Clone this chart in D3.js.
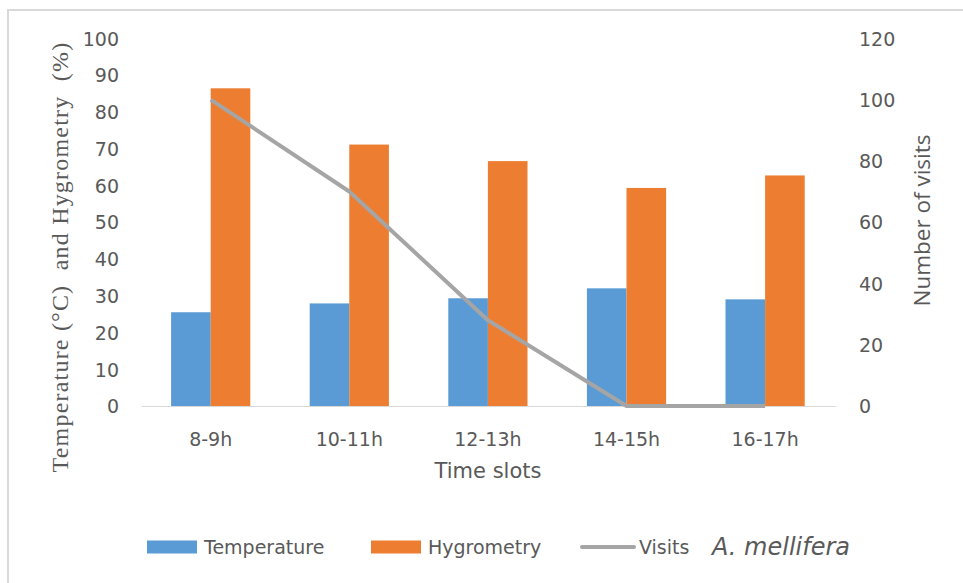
<!DOCTYPE html>
<html>
<head>
<meta charset="utf-8">
<script src="https://cdn.jsdelivr.net/npm/d3@7"></script>
<style>
  html, body { margin: 0; padding: 0; background: #ffffff; }
  svg { display: block; }
</style>
</head>
<body>
<svg id="chart" width="963" height="583"></svg>
<script>
// ---- Data ----
const categories = ["8-9h", "10-11h", "12-13h", "14-15h", "16-17h"];
const temperature = [25.5, 27.9, 29.3, 32.0, 29.0];
const hygrometry = [86.4, 71.1, 66.6, 59.3, 62.7];
const visits = [100, 70, 28, 0, 0];
const leftTicks = [0, 10, 20, 30, 40, 50, 60, 70, 80, 90, 100];
const rightTicks = [0, 20, 40, 60, 80, 100, 120];
const seriesNames = ["Temperature", "Hygrometry"];

// ---- Layout ----
const W = 963, H = 583;
const plot = { left: 141.4, right: 834.4, top: 38.3, bottom: 406 };
const colors = { Temperature: "#5b9bd5", Hygrometry: "#ed7d31", Visits: "#a5a5a5" };
const textColor = "#595959";
const tickFont = "'DejaVu Sans', sans-serif";

const svg = d3.select("#chart");

// outer frame (clipped by the picture edges)
svg.append("path")
  .attr("d", `M8,${H} V10 H${W}`)
  .attr("fill", "none")
  .attr("stroke", "#d9d9d9")
  .attr("stroke-width", 2);

// ---- Scales ----
const x0 = d3.scaleBand().domain(categories).range([plot.left, plot.right]).paddingInner(0).paddingOuter(0);
const x1 = d3.scaleBand().domain(seriesNames).range([0, x0.bandwidth()]).paddingInner(0).paddingOuter(0.75);
const yL = d3.scaleLinear().domain([0, 100]).range([plot.bottom, plot.top]);
const yR = d3.scaleLinear().domain([0, 120]).range([plot.bottom, plot.top]);

// ---- Bars ----
const rows = categories.map((c, i) => ({ cat: c, Temperature: temperature[i], Hygrometry: hygrometry[i] }));
const groups = svg.append("g").selectAll("g").data(rows).join("g")
  .attr("transform", d => `translate(${x0(d.cat)},0)`);
groups.selectAll("rect")
  .data(d => seriesNames.map(s => ({ s, v: d[s] })))
  .join("rect")
  .attr("x", d => x1(d.s))
  .attr("width", x1.bandwidth())
  .attr("y", d => yL(d.v))
  .attr("height", d => yL(0) - yL(d.v))
  .attr("fill", d => colors[d.s]);

// ---- Category axis baseline ----
svg.append("line")
  .attr("x1", plot.left).attr("x2", plot.right + 1.5)
  .attr("y1", plot.bottom + 0.5).attr("y2", plot.bottom + 0.5)
  .attr("stroke", "#d9d9d9").attr("stroke-width", 1);

// ---- Visits line ----
const line = d3.line()
  .x((d, i) => x0(categories[i]) + x0.bandwidth() / 2)
  .y(d => yR(d));
svg.append("path")
  .datum(visits)
  .attr("d", line)
  .attr("fill", "none")
  .attr("stroke", colors.Visits)
  .attr("stroke-width", 4)
  .attr("stroke-linejoin", "round");

// ---- Axes ----
const axL = svg.append("g")
  .attr("transform", `translate(${plot.left},0)`)
  .call(d3.axisLeft(yL).tickValues(leftTicks).tickSize(0).tickPadding(22));
axL.select(".domain").remove();
axL.selectAll("text")
  .attr("font-family", tickFont).attr("font-size", 19).attr("fill", textColor)
  .attr("x", 119 - plot.left).attr("dy", "0.36em");

const axR = svg.append("g")
  .attr("transform", `translate(${plot.right},0)`)
  .call(d3.axisRight(yR).tickValues(rightTicks).tickSize(0));
axR.select(".domain").remove();
axR.selectAll("text")
  .attr("font-family", tickFont).attr("font-size", 19).attr("fill", textColor)
  .attr("x", 859 - plot.right).attr("dy", "0.36em");

const axB = svg.append("g")
  .attr("transform", `translate(0,${plot.bottom})`)
  .call(d3.axisBottom(x0).tickSize(0));
axB.select(".domain").remove();
axB.selectAll("text")
  .attr("font-family", tickFont).attr("font-size", 19).attr("fill", textColor)
  .attr("y", 40).attr("dy", 0);

// ---- Axis titles ----
svg.append("text")
  .attr("transform", "translate(488,478)")
  .attr("text-anchor", "middle")
  .attr("font-family", tickFont).attr("font-size", 21).attr("fill", textColor)
  .text("Time slots");

svg.append("text")
  .attr("transform", "translate(60,257) rotate(-90)")
  .attr("text-anchor", "middle")
  .attr("dominant-baseline", "central")
  .attr("font-family", "'Liberation Serif', 'Times New Roman', serif")
  .attr("font-size", 24).attr("letter-spacing", "1.2px")
  .attr("fill", textColor)
  .style("white-space", "pre")
  .text("Temperature (°C)  and Hygrometry  (%)");

svg.append("text")
  .attr("transform", "translate(921,220.5) rotate(-90)")
  .attr("text-anchor", "middle")
  .attr("dominant-baseline", "central")
  .attr("font-family", "'Open Sans', sans-serif")
  .attr("font-size", 22.5).attr("fill", textColor)
  .text("Number of visits");

// ---- Legend ----
const legY = 547;
const legend = svg.append("g");
const legItems = [
  { name: "Temperature", type: "rect", x: 147 },
  { name: "Hygrometry", type: "rect", x: 371 },
  { name: "Visits", type: "line", x: 582 }
];
legItems.forEach(it => {
  if (it.type === "rect") {
    legend.append("rect").attr("x", it.x).attr("y", legY - 6.5).attr("width", 50).attr("height", 13)
      .attr("fill", colors[it.name]);
  } else {
    legend.append("line").attr("x1", it.x).attr("x2", it.x + 52).attr("y1", legY).attr("y2", legY)
      .attr("stroke", colors.Visits).attr("stroke-width", 4).attr("stroke-linecap", "round");
  }
  legend.append("text")
    .attr("x", it.x + 57)
    .attr("y", legY).attr("dy", "0.36em")
    .attr("font-family", tickFont).attr("font-size", 19).attr("fill", textColor)
    .text(it.name);
});
legend.append("text")
  .attr("x", 712).attr("y", legY).attr("dy", "0.34em")
  .attr("font-family", tickFont).attr("font-size", 24).attr("font-style", "italic")
  .attr("fill", textColor)
  .text("A. mellifera");
</script>
</body>
</html>
